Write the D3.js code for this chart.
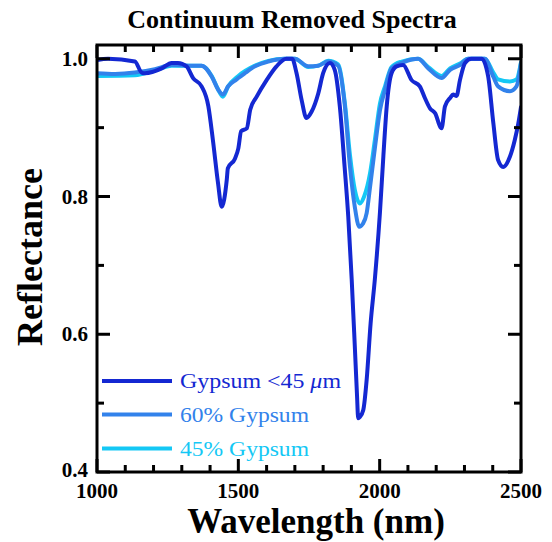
<!DOCTYPE html>
<html><head><meta charset="utf-8">
<script src="https://cdn.jsdelivr.net/npm/d3@7"></script>
<style>body{margin:0;background:#fff}svg{display:block;font-family:"Liberation Serif","Times New Roman",serif}</style>
</head><body><svg id="c" width="552" height="542"></svg>
<script>
const seriesNames = ["Gypsum <45 μm", "60% Gypsum", "45% Gypsum"];
const seriesColors = ["#1428d2", "#3282eb", "#14c8f5"];
const xTickLabels = [1000, 1500, 2000, 2500];
const yTickLabels = [0.4, 0.6, 0.8, 1.0];

const gypsumFine = [
[1000,.998],[1039,1.0],[1134,.996],[1158,.98],[1170,.979],[1229,.986],[1264,.994],[1286,.994],[1317,.989],[1340,.972],[1370,.96],[1394,.931],[1410,.882],[1428,.82],[1441,.785],[1459,.824],[1463,.841],[1488,.855],[1500,.87],[1510,.895],[1530,.899],[1542,.926],[1565,.945],[1600,.969],[1635,.989],[1670,1.0],[1690,1.0],[1706,.979],[1724,.94],[1741,.914],[1759,.923],[1783,.95],[1800,.979],[1824,.994],[1841,.984],[1859,.931],[1876,.843],[1889,.77],[1901,.68],[1912,.583],[1920,.51],[1924,.478],[1930,.48],[1942,.49],[1954,.534],[1968,.616],[1983,.68],[2001,.777],[2013,.858],[2025,.931],[2042,.979],[2060,.989],[2083,.991],[2113,.969],[2142,.96],[2160,.943],[2178,.928],[2196,.921],[2219,.899],[2231,.931],[2249,.943],[2260,.948],[2272,.946],[2284,.969],[2302,.994],[2325,1.0],[2361,1.0],[2384,.974],[2402,.907],[2419,.853],[2437,.843],[2461,.858],[2478,.882],[2490,.905],[2500,.93]
];
const gypsum60 = [
[1000,.979],[1064,.978],[1134,.98],[1205,.985],[1264,.991],[1323,.99],[1370,.99],[1406,.974],[1429,.955],[1445,.948],[1464,.96],[1494,.97],[1500,.972],[1523,.979],[1559,.989],[1606,.996],[1665,1.0],[1700,1.0],[1747,.989],[1783,.99],[1818,.996],[1853,.99],[1877,.931],[1895,.843],[1912,.785],[1928,.756],[1940,.76],[1954,.776],[1966,.814],[1983,.87],[2001,.925],[2019,.955],[2042,.986],[2078,.994],[2113,.999],[2136,1.0],[2172,.986],[2219,.972],[2249,.984],[2284,.991],[2313,1.0],[2372,1.0],[2402,.974],[2419,.96],[2461,.953],[2484,.96],[2500,.994]
];
const gypsum45 = [
[1000,.975],[1134,.976],[1205,.983],[1264,.99],[1370,.99],[1406,.975],[1429,.955],[1445,.945],[1464,.96],[1500,.975],[1559,.99],[1606,.997],[1665,1.0],[1700,1.0],[1747,.988],[1783,.99],[1818,.997],[1853,.992],[1877,.935],[1895,.86],[1912,.81],[1930,.79],[1945,.8],[1966,.834],[1983,.882],[2001,.935],[2019,.96],[2042,.988],[2078,.996],[2136,1.0],[2172,.988],[2219,.975],[2249,.986],[2284,.993],[2313,1.0],[2372,1.0],[2402,.98],[2419,.97],[2461,.967],[2484,.97],[2500,.995]
];
const allSeries = [gypsumFine, gypsum60, gypsum45];

const svg = d3.select("#c");
const L = 97, R = 521, T = 45, B = 472;
const x = d3.scaleLinear().domain([1000, 2500]).range([L, R]);
const y = d3.scaleLinear().domain([0.4, 1.02]).range([B, T]);

svg.append("clipPath").attr("id","clip").append("rect").attr("x",L).attr("y",T).attr("width",R-L).attr("height",B-T);

const line = d3.line().x(d => x(d[0])).y(d => y(d[1])).curve(d3.curveMonotoneX);
const g = svg.append("g").attr("clip-path","url(#clip)");
[2,1,0].forEach(i => {
  g.append("path").datum(allSeries[i]).attr("d", line)
   .attr("fill","none").attr("stroke", seriesColors[i]).attr("stroke-width",4)
   .attr("stroke-linejoin","round").attr("stroke-linecap","round");
});

// ticks (inward)
const xMinor = d3.range(1000, 2501, 100);
const yMinor = d3.range(0.4, 1.001, 0.1).map(v => +v.toFixed(2));
const tk = svg.append("g").attr("stroke","#000").attr("stroke-width",3);
xMinor.forEach(v => {
  const major = v % 500 === 0;
  const len = major ? 13 : 7;
  tk.append("line").attr("x1",x(v)).attr("x2",x(v)).attr("y1",B).attr("y2",B-len);
  tk.append("line").attr("x1",x(v)).attr("x2",x(v)).attr("y1",T).attr("y2",T+len);
});
yMinor.forEach(v => {
  const major = yTickLabels.some(t => Math.abs(t - v) < 1e-6);
  const len = major ? 13 : 7;
  tk.append("line").attr("x1",L).attr("x2",L+len).attr("y1",y(v)).attr("y2",y(v));
  tk.append("line").attr("x1",R).attr("x2",R-len).attr("y1",y(v)).attr("y2",y(v));
});
svg.append("rect").attr("x",L).attr("y",T).attr("width",R-L).attr("height",B-T)
  .attr("fill","none").attr("stroke","#000").attr("stroke-width",3);

// tick labels
svg.append("g").selectAll("text").data(xTickLabels).join("text")
  .attr("x", d => x(d)).attr("y", 498).attr("text-anchor","middle")
  .attr("font-size",21).attr("font-weight","bold").text(d => d);
svg.append("g").selectAll("text").data(yTickLabels).join("text")
  .attr("x", 88).attr("y", d => y(d) + 7 - (d === 0.4 ? 2 : 0)).attr("text-anchor","end")
  .attr("font-size",21).attr("font-weight","bold").text(d => d.toFixed(1));

// titles
svg.append("text").attr("x",292).attr("y",28).attr("text-anchor","middle")
  .attr("font-size",26).attr("font-weight","bold").text("Continuum Removed Spectra");
svg.append("text").attr("x",316).attr("y",533).attr("text-anchor","middle")
  .attr("font-size",35).attr("font-weight","bold").text("Wavelength (nm)");
svg.append("text").attr("transform","translate(42,257) rotate(-90)").attr("text-anchor","middle")
  .attr("font-size",36).attr("font-weight","bold").text("Reflectance");

// legend
const legY = [381, 414.5, 448.5];
const legW = [161, 129, 129];
seriesNames.forEach((n,i) => {
  svg.append("line").attr("x1",102).attr("x2",172).attr("y1",legY[i]).attr("y2",legY[i])
    .attr("stroke",seriesColors[i]).attr("stroke-width",4);
  const t = svg.append("text").attr("x",180).attr("y",legY[i]+7).attr("font-size",21)
    .attr("fill",seriesColors[i]).attr("textLength",legW[i]).attr("lengthAdjust","spacingAndGlyphs");
  if (i === 0) {
    t.append("tspan").text("Gypsum <45 ");
    t.append("tspan").attr("font-style","italic").text("μ");
    t.append("tspan").text("m");
  } else t.text(n);
});
</script></body></html>
